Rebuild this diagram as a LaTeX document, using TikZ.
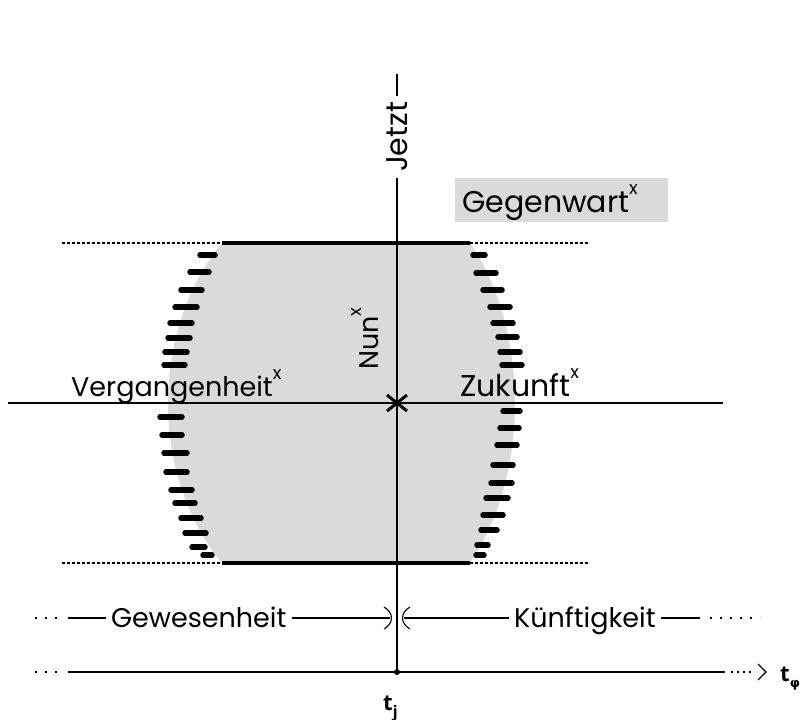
\documentclass[tikz,border=0pt]{standalone}
\usepackage{fontspec}
\usetikzlibrary{calc}
\setmainfont{Poppins}
\newfontfamily\tfont{Open Sans}
\newfontfamily\phifont{DejaVu Sans}
\newcommand\supx{\raisebox{0.6em}{\fontsize{18}{18}\selectfont x}}
\definecolor{greyfill}{RGB}{218,218,218}
\begin{document}
\begin{tikzpicture}[x=1pt,y=-1pt,
  lbl/.style={inner sep=0pt, font=\fontsize{27}{29}\selectfont},
  biglbl/.style={inner sep=0pt, font=\fontsize{30}{32}\selectfont},
  tlbl/.style={inner sep=0pt, font=\tfont\bfseries\fontsize{22}{22}\selectfont},
  axis/.style={line width=2.4pt},
  rim/.style={line width=3.4pt},
  hair/.style={line width=1.1pt},
  dotline/.style={line width=1.2pt, dash pattern=on 3pt off 2pt},
  sparse/.style={line width=1.2pt, dash pattern=on 2pt off 8pt},
  hatch/.style={line width=5.5pt, line cap=round},
]
\useasboundingbox (0,0) rectangle (804,720);

% grey region
\fill[greyfill] (222,243) -- (470,243) .. controls (530,330) and (530,476) .. (470,563)
  -- (222,563) .. controls (150,476) and (150,330) .. (222,243);

% Gegenwart box
\node[fill=greyfill, minimum width=213pt, minimum height=44pt, anchor=north west, inner sep=0pt] (gbox) at (455,178) {};
\node[biglbl, anchor=base west] (gegen) at (462,212) {Gegenwart\supx};

% hatch marks left
\foreach \yy/\xa/\xb in {255/200/215, 272/190/209, 290/181/202, 307/175/197, 323/170/192,
   338/168/190, 352/165/187, 365/164/185, 417/160/182, 435/162/182, 453/164/187,
   472/166/187, 490/171/192, 503/175/195, 518/181/201, 533/185/206, 547/192/205, 555/203/212}
  \draw[hatch] (\xa,\yy) -- (\xb,\yy);
% hatch marks right
\foreach \yy/\xa/\xb in {255/473/485, 273/476/496, 290/483/502, 307/490/510, 323/493/513,
   337/498/517, 352/500/520, 365/502/522, 411/503/520, 428/500/519, 445/497/517,
   465/493/513, 483/491/512, 498/486/508, 515/483/503, 530/481/497, 545/477/488, 555/476/484}
  \draw[hatch] (\xa,\yy) -- (\xb,\yy);

% rims and dotted extensions
\coordinate (tl) at (222,243); \coordinate (tr) at (470,243);
\coordinate (bl) at (222,563); \coordinate (br) at (470,563);
\coordinate (tld) at (62,243); \coordinate (trd) at (588,243);
\coordinate (bld) at (62,563); \coordinate (brd) at (588,563);
\draw[rim] (tl) -- (tr);
\draw[rim] (bl) -- (br);
\draw[dotline] (tld) -- (tl);
\draw[dotline] (tr) -- (trd);
\draw[dotline] (bld) -- (bl);
\draw[dotline] (br) -- (brd);

% vertical axis with Jetzt
\node[biglbl, rotate=90, inner sep=6pt] (jetzt) at (397,137) {Jetzt};
\coordinate (vtop) at (397,74);
\coordinate (tj) at (397,672);
\draw[axis] (vtop) -- (jetzt.east);
\draw[axis] (jetzt.west) -- (tj);

% horizontal axis
\coordinate (hl) at (8,403); \coordinate (hr) at (723,403);
\coordinate (nun) at (397,403);
\draw[line width=2.8pt] (hl) -- (hr);
\draw[line width=3pt] ($(nun)+(-10,-8)$) -- ($(nun)+(10,8)$);
\draw[line width=3pt] ($(nun)+(-10,8)$) -- ($(nun)+(10,-8)$);

\node[lbl, anchor=base west] (verg) at (71,396) {Vergangenheit\supx};
\node[biglbl, anchor=base west] (zuk) at (460,396) {Zukunft\supx};
\node[lbl, rotate=90, anchor=base west] (nunlbl) at (378,370) {Nun\supx};

% Gewesenheit / Kuenftigkeit row
\node[lbl, anchor=base west, inner xsep=5pt] (gew) at (106,627) {Gewesenheit};
\node[lbl, anchor=base west, inner xsep=5pt] (kue) at (509,627) {Künftigkeit};
\coordinate (gdl) at (35,618); \coordinate (gdr) at (60,618);
\coordinate (gl) at (68,618);
\coordinate (cxl) at (390,618); \coordinate (cxr) at (404,618);
\coordinate (kr) at (700,618); \coordinate (kdl) at (710,618); \coordinate (kdr) at (760,618);
\draw[sparse] (gdl) -- (gdr);
\draw[hair] (gl) -- (gew.west |- gl);
\draw[hair] (gew.east |- cxl) -- (cxl);
\draw[hair] (cxr) -- (kue.west |- cxr);
\draw[hair] (kue.east |- kr) -- (kr);
\draw[sparse] (kdl) -- (kdr);
\draw[hair] (384,607) .. controls (394,613) and (394,623) .. (384,629);
\draw[hair] (410,607) .. controls (400,613) and (400,623) .. (410,629);

% time axis
\coordinate (tdl) at (35,672); \coordinate (tdr) at (60,672);
\coordinate (tsl) at (68,672); \coordinate (tsr) at (725,672);
\coordinate (tel) at (731,672); \coordinate (ter) at (752,672);
\coordinate (tip) at (766,672);
\draw[sparse] (tdl) -- (tdr);
\draw[hair] (tsl) -- (tsr);
\draw[line width=1.1pt, dash pattern=on 2pt off 4pt] (tel) -- (ter);
\draw[line width=1.3pt] ($(tip)+(-8,-8)$) -- (tip) -- ($(tip)+(-8,8)$);
\fill (tj) circle (3pt);

\node[tlbl, anchor=base west] (tjlbl) at (383,710) {t\raisebox{-0.35em}{\fontsize{16}{16}\selectfont j}};
\node[tlbl, anchor=base west] (tphi) at (780,681) {t\raisebox{-0.3em}{\phifont\bfseries\fontsize{13}{13}\selectfont φ}};
\end{tikzpicture}
\end{document}
